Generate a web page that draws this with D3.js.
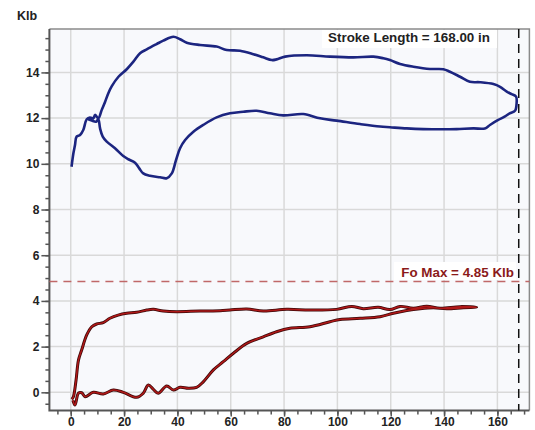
<!DOCTYPE html>
<html>
<head>
<meta charset="utf-8">
<script src="https://cdn.jsdelivr.net/npm/d3@7"></script>
<style>
  html, body { margin: 0; padding: 0; background: #ffffff; }
  svg { display: block; font-family: "Liberation Sans", Arial, sans-serif; }
</style>
</head>
<body>
<svg id="chart" width="535" height="430"></svg>
<script>
// ---- data ----
const yUnit = "Klb";
const xTickValues = [0, 20, 40, 60, 80, 100, 120, 140, 160];
const yTickValues = [0, 2, 4, 6, 8, 10, 12, 14];
const strokeLength = 168.00;
const foMax = 4.85;
const strokeLabel = "Stroke Length = 168.00 in";
const foMaxLabel = "Fo Max = 4.85 Klb";

// surface card (blue): position (in), load (Klb)
const surfaceUp = [
  [0.3,9.87],[1.0,10.46],[1.6,10.82],[2.2,11.19],[3.5,11.26],[4.7,11.48],[6.0,11.95],[7.2,12.03],
  [8.5,11.99],[9.1,12.14],[10.35,11.99],[11.6,12.35],[12.9,12.72],[14.1,13.09],[15.4,13.40],
  [17.9,13.81],[21.0,14.14],[23.5,14.47],[26.0,14.84],[28.5,15.01],[32.2,15.24],[34.7,15.39],
  [38.5,15.56],[41.0,15.45],[43.5,15.30],[48.5,15.20],[54.7,15.13],[58.5,14.98],[63.5,14.95],
  [68.5,14.80],[72.2,14.66],[75.4,14.54],[77.2,14.57],[80.4,14.69],[88.5,14.75],[97.2,14.69],
  [106,14.66],[113.5,14.69],[117.2,14.62],[119.7,14.54],[123.5,14.37],[128.5,14.25],[134.7,14.15],
  [139.7,14.14],[142.2,14.03],[146,13.81],[149.7,13.59],[153.5,13.57],[158.5,13.49],[161,13.37],
  [163.5,13.16],[165.3,13.05],[167,12.94],[167.2,12.65],[166.6,12.32]
];
const surfaceDown = [
  [164.6,12.21],[162.7,12.06],[160.3,11.92],[157.2,11.70],[155.3,11.55],[151,11.55],[144.7,11.52],
  [139.7,11.51],[132.2,11.52],[126,11.55],[119.7,11.60],[116,11.63],[108.5,11.74],[99.7,11.89],
  [93.5,11.99],[87.2,12.18],[79.7,12.12],[74.7,12.21],[69.7,12.32],[64.7,12.28],[59.7,12.21],
  [54.7,12.03],[49.7,11.70],[46,11.40],[42.9,11.04],[41,10.68],[39.5,10.17],[37.9,9.58],[36,9.37],
  [33.5,9.41],[29.7,9.48],[27.2,9.58],[25.7,9.80],[24.1,10.05],[21.6,10.20],[19.7,10.34],
  [16.6,10.68],[13.5,10.97],[12.0,11.19],[11.0,11.55],[10.35,11.95],[9.5,11.84],[7.9,11.89],[6.6,11.95]
];

// pump card (red)
const pumpUp = [
  [0.4,-0.30],[1.0,-0.19],[2.0,0.54],[2.9,1.41],[4.1,1.85],[6.0,2.51],[7.9,2.87],[9.7,2.99],
  [12.2,3.05],[14.7,3.24],[17.8,3.38],[21,3.46],[24.7,3.50],[28.5,3.60],[31,3.63],[34.7,3.56],
  [39.7,3.53],[48.5,3.56],[56,3.57],[59.7,3.60],[66,3.65],[72.2,3.56],[81,3.63],[89.7,3.60],
  [99.7,3.63],[105.4,3.76],[109.7,3.66],[115.3,3.72],[119.7,3.62],[123.5,3.76],[128.5,3.68],
  [133.5,3.77],[138.5,3.68],[146,3.75],[152.2,3.72]
];
const pumpDown = [
  [147.2,3.70],[141,3.66],[136,3.70],[131,3.66],[126,3.58],[121,3.46],[116,3.31],[108.5,3.24],
  [101,3.19],[97.2,3.09],[89.7,2.87],[82.2,2.80],[77.2,2.65],[72.2,2.43],[66,2.14],[61,1.71],
  [57.2,1.34],[53.5,0.98],[49.7,0.46],[47.2,0.22],[44.1,0.18],[41,0.22],[38.5,0.10],[36,0.28],
  [32.8,-0.04],[31,0.13],[29.1,0.32],[27.2,-0.04],[24.7,-0.22],[19.7,0.0],[16,0.10],[12.2,-0.07],
  [8.5,0.0],[5.4,-0.19],[4.1,-0.02],[2.9,-0.04],[1.6,-0.56],[0.8,-0.35]
];

// ---- chart ----
const svg = d3.select("#chart");
const x = d3.scaleLinear().domain([-8, 172]).range([49.4, 529.4]);
const y = d3.scaleLinear().domain([-0.8, 15.9]).range([410.6, 29.0]);
const [x0, x1] = x.range();
const [yb, yt] = y.range();

// plot background
svg.append("rect").attr("x", x0).attr("y", yt).attr("width", x1 - x0).attr("height", yb - yt)
  .attr("fill", "#f8f9fc");

// grid
const grid = svg.append("g");
grid.selectAll("line.vx").data(xTickValues).join("line")
  .attr("x1", d => x(d)).attr("x2", d => x(d)).attr("y1", yt).attr("y2", yb)
  .attr("stroke", "#d9d9d9").attr("stroke-width", 1.5);
grid.selectAll("line.hy").data(yTickValues).join("line")
  .attr("x1", x0).attr("x2", x1).attr("y1", d => y(d)).attr("y2", d => y(d))
  .attr("stroke", "#d9d9d9").attr("stroke-width", 1.5);

// frame top/right
svg.append("path").attr("d", `M${x0},${yt}H${x1}V${yb}`)
  .attr("fill", "none").attr("stroke", "#8a8a8a").attr("stroke-width", 1.5);

// axes
const xMinor = d3.range(-5, 172, 5);
const yMinor = d3.range(-0.5, 15.9, 0.5);
const xAxisMinor = d3.axisBottom(x).tickValues(xMinor).tickSize(4).tickFormat("");
const xAxis = d3.axisBottom(x).tickValues(xTickValues).tickSize(6).tickPadding(1).tickFormat(d3.format("d"));
const yAxisMinor = d3.axisLeft(y).tickValues(yMinor).tickSize(4).tickFormat("");
const yAxis = d3.axisLeft(y).tickValues(yTickValues).tickSize(8).tickPadding(2).tickFormat(d3.format("d"));

function styleAxis(g) {
  g.select(".domain").remove();
  g.selectAll("line").attr("stroke", "#555").attr("stroke-width", 1.5);
  g.selectAll("text").attr("fill", "#222").attr("font-size", 12).attr("font-weight", "bold");
}
svg.append("g").attr("transform", `translate(0,${yb})`).call(xAxisMinor).call(styleAxis);
svg.append("g").attr("transform", `translate(0,${yb})`).call(xAxis).call(styleAxis);
svg.append("g").attr("transform", `translate(${x0},0)`).call(yAxisMinor).call(styleAxis);
svg.append("g").attr("transform", `translate(${x0},0)`).call(yAxis).call(styleAxis);

svg.append("path").attr("d", `M${x0},${yt}V${yb}H${x1}`)
  .attr("fill", "none").attr("stroke", "#555").attr("stroke-width", 2);

svg.append("text").attr("x", 17).attr("y", 20).text(yUnit)
  .attr("font-size", 12.5).attr("font-weight", "bold").attr("fill", "#222");

// label boxes (white backgrounds)
svg.append("rect").attr("x", 322).attr("y", yt + 1).attr("width", 175).attr("height", 18).attr("fill", "#ffffff");
svg.append("rect").attr("x", 394).attr("y", 262).attr("width", 122).attr("height", 18).attr("fill", "#ffffff");

// Fo Max line
svg.append("line").attr("x1", x0).attr("x2", x1).attr("y1", y(foMax)).attr("y2", y(foMax))
  .attr("stroke", "#c06868").attr("stroke-width", 1.5).attr("stroke-dasharray", "8,6");
// stroke length line
svg.append("line").attr("x1", x(strokeLength)).attr("x2", x(strokeLength)).attr("y1", yt).attr("y2", yb)
  .attr("stroke", "#111").attr("stroke-width", 1.5).attr("stroke-dasharray", "9,6");

// curves
const line = d3.line().x(d => x(d[0])).y(d => y(d[1])).curve(d3.curveCatmullRom.alpha(0.5));
const surface = surfaceUp.concat(surfaceDown);
const pump = pumpUp.concat(pumpDown);

svg.append("path").datum(pump).attr("d", line).attr("fill", "none")
  .attr("stroke", "#3a0808").attr("stroke-width", 3).attr("stroke-linejoin", "round");
svg.append("path").datum(pump).attr("d", line).attr("fill", "none")
  .attr("stroke", "#b01818").attr("stroke-width", 1.5).attr("stroke-linejoin", "round");
svg.append("path").datum(surface).attr("d", line).attr("fill", "none")
  .attr("stroke", "#1c2580").attr("stroke-width", 2.6).attr("stroke-linejoin", "round");

// labels
svg.append("text").attr("x", 409).attr("y", yt + 12.5).attr("text-anchor", "middle")
  .attr("font-size", 13.4).attr("font-weight", "bold").attr("fill", "#222").text(strokeLabel);
svg.append("text").attr("x", 514).attr("y", 277).attr("text-anchor", "end")
  .attr("font-size", 13.4).attr("font-weight", "bold").attr("fill", "#8b1a1a").text(foMaxLabel);
</script>
</body>
</html>
